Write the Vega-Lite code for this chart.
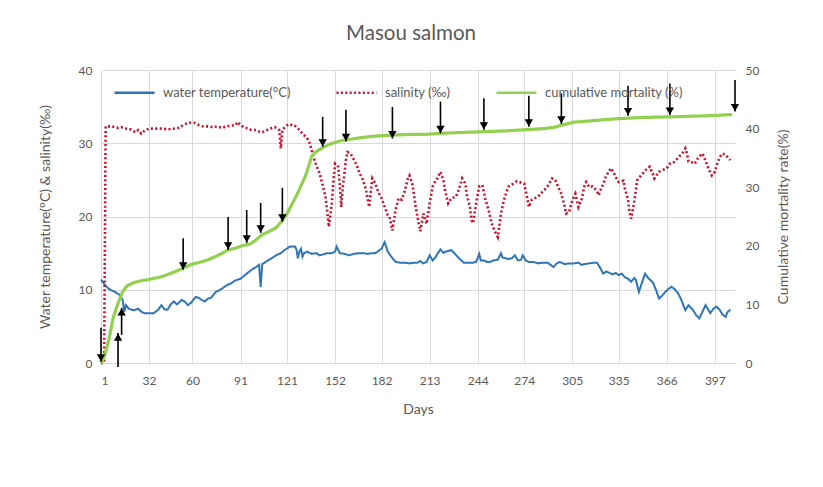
{
"$schema": "https://vega.github.io/schema/vega-lite/v6.json",
"width": 634, "height": 293,
"autosize": {"type": "none"},
"padding": {"left": 101, "top": 70, "right": 88, "bottom": 124},
"background": "white",
"title": {"text": "Masou salmon", "fontSize": 20.5, "font": "Lato", "fontWeight": "normal", "color": "#595959", "offset": 20, "dx": -7},
"config": {"view": {"stroke": null}, "font": "Lato"},
"datasets": {
"temp": [{"d":1,"v":11.4},{"d":3,"v":10.8},{"d":5,"v":10.3},{"d":7,"v":10.0},{"d":10,"v":9.7},{"d":13,"v":9.3},{"d":15,"v":8.6},{"d":16,"v":7.0},{"d":17,"v":7.9},{"d":19,"v":7.4},{"d":22,"v":7.2},{"d":25,"v":7.4},{"d":27,"v":7.0},{"d":29,"v":6.8},{"d":32,"v":6.8},{"d":35,"v":6.8},{"d":38,"v":7.3},{"d":40,"v":7.9},{"d":42,"v":7.3},{"d":44,"v":7.3},{"d":46,"v":8.0},{"d":48,"v":8.4},{"d":50,"v":8.0},{"d":51,"v":8.2},{"d":53,"v":8.6},{"d":55,"v":8.4},{"d":57,"v":7.9},{"d":59,"v":8.2},{"d":62,"v":9.0},{"d":64,"v":8.9},{"d":66,"v":8.6},{"d":68,"v":8.4},{"d":70,"v":8.8},{"d":72,"v":8.9},{"d":75,"v":9.7},{"d":78,"v":10.0},{"d":82,"v":10.6},{"d":85,"v":10.9},{"d":88,"v":11.3},{"d":91,"v":11.5},{"d":95,"v":12.2},{"d":98,"v":12.7},{"d":101,"v":13.1},{"d":103,"v":13.4},{"d":104,"v":10.4},{"d":105,"v":13.5},{"d":108,"v":13.9},{"d":111,"v":14.3},{"d":114,"v":14.7},{"d":117,"v":15.0},{"d":120,"v":15.5},{"d":123,"v":15.9},{"d":126,"v":15.9},{"d":127,"v":15.6},{"d":128,"v":14.3},{"d":129,"v":15.2},{"d":130,"v":15.6},{"d":131,"v":14.5},{"d":132,"v":15.0},{"d":134,"v":15.2},{"d":137,"v":14.9},{"d":140,"v":15.0},{"d":142,"v":14.7},{"d":144,"v":14.8},{"d":147,"v":15.0},{"d":150,"v":15.0},{"d":152,"v":15.2},{"d":153,"v":15.9},{"d":155,"v":15.0},{"d":158,"v":14.9},{"d":161,"v":14.7},{"d":164,"v":14.9},{"d":167,"v":15.0},{"d":170,"v":15.0},{"d":173,"v":14.9},{"d":176,"v":15.0},{"d":178,"v":15.0},{"d":180,"v":15.3},{"d":182,"v":15.6},{"d":184,"v":16.5},{"d":186,"v":15.2},{"d":188,"v":14.6},{"d":191,"v":13.8},{"d":194,"v":13.7},{"d":197,"v":13.7},{"d":200,"v":13.6},{"d":203,"v":13.7},{"d":205,"v":13.7},{"d":207,"v":13.9},{"d":209,"v":13.6},{"d":211,"v":13.8},{"d":213,"v":14.7},{"d":215,"v":14.0},{"d":217,"v":14.5},{"d":218,"v":14.9},{"d":220,"v":15.5},{"d":222,"v":15.0},{"d":223,"v":15.2},{"d":225,"v":15.3},{"d":227,"v":15.4},{"d":229,"v":15.0},{"d":231,"v":14.5},{"d":233,"v":14.1},{"d":235,"v":13.7},{"d":238,"v":13.7},{"d":241,"v":13.7},{"d":243,"v":13.8},{"d":245,"v":14.9},{"d":246,"v":14.0},{"d":248,"v":14.0},{"d":250,"v":13.8},{"d":252,"v":13.8},{"d":254,"v":14.0},{"d":257,"v":14.1},{"d":259,"v":15.0},{"d":260,"v":14.4},{"d":262,"v":14.3},{"d":264,"v":14.2},{"d":266,"v":14.3},{"d":268,"v":14.7},{"d":270,"v":14.0},{"d":272,"v":14.1},{"d":273,"v":14.7},{"d":275,"v":14.0},{"d":277,"v":13.8},{"d":280,"v":13.8},{"d":283,"v":13.6},{"d":286,"v":13.7},{"d":289,"v":13.7},{"d":291,"v":13.4},{"d":293,"v":13.1},{"d":295,"v":13.6},{"d":297,"v":13.8},{"d":300,"v":13.5},{"d":303,"v":13.6},{"d":306,"v":13.6},{"d":309,"v":13.7},{"d":311,"v":13.4},{"d":313,"v":13.5},{"d":316,"v":13.6},{"d":319,"v":13.7},{"d":321,"v":13.7},{"d":323,"v":13.0},{"d":325,"v":12.2},{"d":327,"v":12.5},{"d":329,"v":12.3},{"d":331,"v":12.1},{"d":333,"v":12.3},{"d":335,"v":12.0},{"d":337,"v":12.2},{"d":339,"v":11.7},{"d":341,"v":11.5},{"d":343,"v":11.1},{"d":345,"v":11.6},{"d":346,"v":11.4},{"d":348,"v":9.7},{"d":350,"v":11.0},{"d":352,"v":12.2},{"d":354,"v":11.6},{"d":355,"v":11.4},{"d":357,"v":11.0},{"d":359,"v":10.0},{"d":361,"v":8.8},{"d":363,"v":9.2},{"d":365,"v":9.7},{"d":367,"v":10.1},{"d":369,"v":10.4},{"d":371,"v":10.1},{"d":373,"v":9.6},{"d":375,"v":8.8},{"d":378,"v":7.2},{"d":380,"v":7.9},{"d":383,"v":7.2},{"d":385,"v":6.5},{"d":387,"v":6.1},{"d":389,"v":7.0},{"d":391,"v":7.9},{"d":393,"v":7.2},{"d":394,"v":6.8},{"d":396,"v":7.4},{"d":398,"v":7.7},{"d":400,"v":7.3},{"d":402,"v":6.6},{"d":404,"v":6.3},{"d":405,"v":6.9},{"d":407,"v":7.3}],
"sal": [{"d":1,"v":0},{"d":3,"v":0},{"d":4,"v":32.3},{"d":8,"v":32.3},{"d":12,"v":32.1},{"d":14,"v":32.2},{"d":17,"v":32.0},{"d":20,"v":31.9},{"d":23,"v":31.5},{"d":25,"v":31.8},{"d":27,"v":31.3},{"d":29,"v":31.7},{"d":32,"v":32.0},{"d":36,"v":32.0},{"d":40,"v":32.0},{"d":44,"v":31.9},{"d":48,"v":32.0},{"d":51,"v":32.1},{"d":55,"v":32.6},{"d":58,"v":32.8},{"d":61,"v":32.8},{"d":64,"v":32.5},{"d":67,"v":32.3},{"d":70,"v":32.3},{"d":73,"v":32.2},{"d":76,"v":32.3},{"d":79,"v":32.1},{"d":82,"v":32.3},{"d":85,"v":32.4},{"d":88,"v":32.5},{"d":89,"v":32.9},{"d":91,"v":32.5},{"d":93,"v":32.2},{"d":96,"v":32.0},{"d":98,"v":31.8},{"d":101,"v":31.8},{"d":103,"v":31.6},{"d":105,"v":31.5},{"d":108,"v":31.8},{"d":110,"v":32.0},{"d":113,"v":32.2},{"d":115,"v":32.0},{"d":116,"v":31.8},{"d":117,"v":29.3},{"d":118,"v":31.8},{"d":120,"v":32.3},{"d":122,"v":32.6},{"d":124,"v":32.5},{"d":126,"v":32.4},{"d":127,"v":32.2},{"d":129,"v":31.8},{"d":131,"v":31.3},{"d":133,"v":30.9},{"d":135,"v":30.4},{"d":137,"v":29.0},{"d":139,"v":27.5},{"d":141,"v":26.4},{"d":142,"v":25.9},{"d":144,"v":24.3},{"d":146,"v":22.5},{"d":148,"v":18.6},{"d":150,"v":22.0},{"d":151,"v":25.0},{"d":152,"v":27.2},{"d":154,"v":26.8},{"d":155,"v":24.5},{"d":156,"v":21.3},{"d":157,"v":24.0},{"d":159,"v":27.7},{"d":160,"v":28.8},{"d":162,"v":28.6},{"d":164,"v":27.8},{"d":166,"v":27.0},{"d":168,"v":25.8},{"d":170,"v":25.0},{"d":172,"v":23.6},{"d":174,"v":21.3},{"d":176,"v":25.2},{"d":178,"v":24.5},{"d":180,"v":23.3},{"d":182,"v":22.5},{"d":184,"v":21.3},{"d":186,"v":20.2},{"d":187,"v":20.0},{"d":189,"v":18.1},{"d":191,"v":20.9},{"d":193,"v":22.5},{"d":195,"v":22.3},{"d":197,"v":23.5},{"d":199,"v":25.2},{"d":200,"v":25.6},{"d":202,"v":24.3},{"d":204,"v":21.3},{"d":206,"v":19.0},{"d":207,"v":18.0},{"d":209,"v":20.4},{"d":211,"v":19.0},{"d":213,"v":21.8},{"d":215,"v":24.1},{"d":217,"v":25.0},{"d":218,"v":25.2},{"d":220,"v":26.1},{"d":222,"v":24.8},{"d":223,"v":23.5},{"d":225,"v":21.8},{"d":227,"v":22.5},{"d":230,"v":22.7},{"d":232,"v":23.8},{"d":234,"v":25.2},{"d":236,"v":24.5},{"d":237,"v":23.0},{"d":239,"v":21.3},{"d":240,"v":19.5},{"d":241,"v":19.1},{"d":243,"v":21.8},{"d":245,"v":24.1},{"d":247,"v":24.3},{"d":249,"v":22.3},{"d":251,"v":20.9},{"d":253,"v":19.1},{"d":255,"v":18.0},{"d":257,"v":17.2},{"d":259,"v":20.4},{"d":261,"v":22.3},{"d":263,"v":23.6},{"d":264,"v":24.1},{"d":267,"v":24.5},{"d":269,"v":24.8},{"d":271,"v":24.7},{"d":274,"v":24.5},{"d":276,"v":22.5},{"d":277,"v":21.3},{"d":279,"v":22.3},{"d":281,"v":22.5},{"d":283,"v":22.7},{"d":285,"v":23.2},{"d":287,"v":23.6},{"d":289,"v":24.1},{"d":292,"v":25.2},{"d":294,"v":25.0},{"d":296,"v":24.0},{"d":298,"v":23.1},{"d":300,"v":21.5},{"d":301,"v":20.4},{"d":303,"v":20.6},{"d":305,"v":22.2},{"d":307,"v":23.1},{"d":309,"v":21.3},{"d":311,"v":22.3},{"d":313,"v":24.3},{"d":314,"v":24.7},{"d":316,"v":24.0},{"d":318,"v":24.1},{"d":319,"v":23.9},{"d":321,"v":23.5},{"d":322,"v":22.9},{"d":324,"v":24.0},{"d":325,"v":24.4},{"d":327,"v":25.6},{"d":330,"v":26.6},{"d":332,"v":25.9},{"d":333,"v":25.4},{"d":335,"v":24.7},{"d":337,"v":24.8},{"d":338,"v":24.9},{"d":339,"v":23.8},{"d":341,"v":22.3},{"d":342,"v":20.5},{"d":343,"v":19.7},{"d":345,"v":22.0},{"d":347,"v":25.0},{"d":349,"v":25.5},{"d":351,"v":26.0},{"d":353,"v":26.5},{"d":355,"v":26.8},{"d":357,"v":25.8},{"d":358,"v":25.2},{"d":360,"v":25.8},{"d":361,"v":26.1},{"d":363,"v":26.3},{"d":366,"v":26.6},{"d":368,"v":27.2},{"d":370,"v":27.3},{"d":372,"v":27.7},{"d":374,"v":28.2},{"d":376,"v":28.6},{"d":378,"v":29.3},{"d":379,"v":28.6},{"d":380,"v":27.5},{"d":382,"v":27.4},{"d":384,"v":27.2},{"d":386,"v":27.9},{"d":388,"v":28.4},{"d":389,"v":28.6},{"d":391,"v":27.6},{"d":393,"v":26.5},{"d":395,"v":25.6},{"d":397,"v":26.1},{"d":399,"v":27.5},{"d":401,"v":28.4},{"d":402,"v":28.6},{"d":404,"v":28.4},{"d":406,"v":27.9},{"d":407,"v":27.7}],
"mort": [{"d":1,"v":0},{"d":3,"v":1.0},{"d":6,"v":3.9},{"d":9,"v":7.9},{"d":12,"v":10.2},{"d":15,"v":12.2},{"d":18,"v":13.2},{"d":22,"v":13.7},{"d":26,"v":14.0},{"d":31,"v":14.2},{"d":36,"v":14.5},{"d":40,"v":14.7},{"d":45,"v":15.2},{"d":49,"v":15.6},{"d":54,"v":16.2},{"d":60,"v":16.9},{"d":65,"v":17.2},{"d":70,"v":17.6},{"d":75,"v":18.2},{"d":79,"v":18.7},{"d":83,"v":19.3},{"d":88,"v":19.6},{"d":92,"v":20.0},{"d":97,"v":20.3},{"d":100,"v":20.8},{"d":105,"v":21.9},{"d":110,"v":22.5},{"d":114,"v":23.1},{"d":118,"v":24.3},{"d":121,"v":25.5},{"d":124,"v":27.0},{"d":127,"v":28.5},{"d":130,"v":30.2},{"d":133,"v":32.0},{"d":135,"v":33.6},{"d":137,"v":35.3},{"d":139,"v":35.9},{"d":143,"v":36.6},{"d":148,"v":37.3},{"d":154,"v":37.8},{"d":159,"v":38.1},{"d":165,"v":38.3},{"d":170,"v":38.5},{"d":177,"v":38.7},{"d":183,"v":38.8},{"d":190,"v":38.9},{"d":200,"v":39.0},{"d":210,"v":39.0},{"d":220,"v":39.2},{"d":230,"v":39.3},{"d":240,"v":39.4},{"d":250,"v":39.5},{"d":261,"v":39.6},{"d":274,"v":39.8},{"d":287,"v":40.0},{"d":293,"v":40.2},{"d":297,"v":40.5},{"d":300,"v":40.7},{"d":306,"v":41.1},{"d":316,"v":41.3},{"d":325,"v":41.5},{"d":335,"v":41.7},{"d":350,"v":41.9},{"d":368,"v":42.0},{"d":380,"v":42.1},{"d":394,"v":42.2},{"d":408,"v":42.4}],
"down": [{"d":1,"v":6.0,"t":0.2},{"d":54,"v":21.3,"t":15.9},{"d":83,"v":24.9,"t":19.3},{"d":95,"v":26.1,"t":20.5},{"d":104,"v":27.3,"t":22.2},{"d":118,"v":29.9,"t":24.1},{"d":144,"v":42.0,"t":36.9},{"d":159,"v":43.2,"t":37.8},{"d":189,"v":43.7,"t":38.3},{"d":220,"v":44.6,"t":39.2},{"d":248,"v":45.2,"t":39.8},{"d":277,"v":45.6,"t":40.3},{"d":298,"v":46.0,"t":40.8},{"d":341,"v":47.3,"t":42.2},{"d":368,"v":47.7,"t":42.3},{"d":410,"v":48.3,"t":42.9}],
"up": [{"d":12,"v":-0.7,"t":5.1},{"d":14.3,"v":4.8,"t":9.4}]
},
"layer": [
{"layer": [
 {"data": {"name": "temp"}, "transform": [{"calculate": "'T'", "as": "s"}],
  "mark": {"type": "line", "strokeWidth": 2, "strokeCap": "butt"},
  "encoding": {
   "x": {"field": "d", "type": "quantitative", "scale": {"domain": [1, 410], "nice": false, "zero": false},
    "axis": {"values": [1,32,60,91,121,152,182,213,244,274,305,335,366,397], "title": "Days", "grid": true, "gridColor": "#d9d9d9", "domainColor": "#d9d9d9", "ticks": false, "labelColor": "#595959", "labelFontSize": 12, "labelPadding": 12, "labelFont": "Lato", "titleFont": "Lato", "titleFontSize": 14, "titleFontWeight": "normal", "titleColor": "#595959", "titlePadding": 16}},
   "y": {"field": "v", "type": "quantitative", "scale": {"domain": [0, 40], "nice": false},
    "axis": {"values": [0,5,10,15,20,25,30,35,40], "title": "Water temperature(°C)  & salinity(‰)", "grid": true, "gridColor": "#d9d9d9", "domain": false, "ticks": false, "labelColor": "#595959", "labelFontSize": 12, "labelPadding": 9, "labelFont": "Lato", "titleFont": "Lato", "titleFontSize": 14, "titleFontWeight": "normal", "titleColor": "#595959", "titlePadding": 26}},
   "color": {"field": "s", "type": "nominal", "scale": {"domain": ["T", "S", "M"], "range": ["#2e75b6", "#c8102e", "#92d050"]},
    "legend": {"orient": "none", "legendX": 12, "legendY": 1, "direction": "horizontal", "title": null, "symbolType": "stroke", "symbolSize": 1600, "symbolStrokeWidth": 2.5, "labelFontSize": 13, "labelColor": "#595959", "labelFont": "Lato", "columnPadding": 40, "labelOffset": 7, "labelExpr": "datum.value == 'T' ? 'water temperature(°C)' : datum.value == 'S' ? 'salinity (‰)' : 'cumulative mortality (%)'"}},
   "strokeDash": {"field": "s", "type": "nominal", "scale": {"domain": ["T", "S", "M"], "range": [[1, 0], [2, 2.4], [1, 0]]},
    "legend": {"orient": "none", "legendX": 12, "legendY": 1, "direction": "horizontal", "title": null, "symbolType": "stroke", "symbolSize": 1600, "symbolStrokeWidth": 2.5, "labelFontSize": 13, "labelColor": "#595959", "labelFont": "Lato", "columnPadding": 40, "labelOffset": 7, "labelExpr": "datum.value == 'T' ? 'water temperature(°C)' : datum.value == 'S' ? 'salinity (‰)' : 'cumulative mortality (%)'"}}
  }},
 {"data": {"name": "sal"}, "transform": [{"calculate": "'S'", "as": "s"}],
  "mark": {"type": "line", "strokeWidth": 2.6, "strokeCap": "butt"},
  "encoding": {
   "x": {"field": "d", "type": "quantitative"},
   "y": {"field": "v", "type": "quantitative"},
   "color": {"field": "s", "type": "nominal"},
   "strokeDash": {"field": "s", "type": "nominal"}
  }}
]},
{"layer": [
 {"data": {"name": "mort"}, "transform": [{"calculate": "'M'", "as": "s"}],
  "mark": {"type": "line", "strokeWidth": 3.2},
  "encoding": {
   "x": {"field": "d", "type": "quantitative"},
   "y": {"field": "v", "type": "quantitative", "title": "Cumulative mortality rate(%)", "scale": {"domain": [0, 50], "nice": false},
    "axis": {"orient": "right", "values": [0,5,10,15,20,25,30,35,40,45,50], "grid": false, "domain": false, "ticks": false, "labelColor": "#595959", "labelFontSize": 12, "labelPadding": 10, "labelFont": "Lato", "titleFont": "Lato", "titleFontSize": 14, "titleFontWeight": "normal", "titleColor": "#595959", "titleAngle": 270, "titlePadding": 32}},
   "color": {"field": "s", "type": "nominal"},
   "strokeDash": {"field": "s", "type": "nominal"}
  }},
 {"data": {"name": "down"}, "mark": {"type": "rule", "color": "black", "strokeWidth": 1.6},
  "encoding": {"x": {"field": "d", "type": "quantitative"}, "y": {"field": "v", "type": "quantitative", "title": "Cumulative mortality rate(%)"}, "y2": {"field": "t"}}},
 {"data": {"name": "down"}, "mark": {"type": "point", "shape": "triangle-down", "filled": true, "color": "black", "opacity": 1, "size": 70, "yOffset": -4},
  "encoding": {"x": {"field": "d", "type": "quantitative"}, "y": {"field": "t", "type": "quantitative", "title": "Cumulative mortality rate(%)"}}},
 {"data": {"name": "up"}, "mark": {"type": "rule", "color": "black", "strokeWidth": 1.6},
  "encoding": {"x": {"field": "d", "type": "quantitative"}, "y": {"field": "v", "type": "quantitative", "title": "Cumulative mortality rate(%)"}, "y2": {"field": "t"}}},
 {"data": {"name": "up"}, "mark": {"type": "point", "shape": "triangle-up", "filled": true, "color": "black", "opacity": 1, "size": 70, "yOffset": 4},
  "encoding": {"x": {"field": "d", "type": "quantitative"}, "y": {"field": "t", "type": "quantitative", "title": "Cumulative mortality rate(%)"}}}
]}
],
"resolve": {"scale": {"y": "independent"}}
}
